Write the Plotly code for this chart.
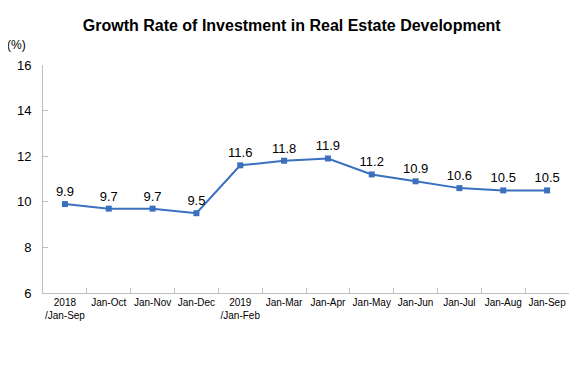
import plotly.graph_objects as go

categories = ["2018<br>/Jan-Sep", "Jan-Oct", "Jan-Nov", "Jan-Dec", "2019<br>/Jan-Feb",
              "Jan-Mar", "Jan-Apr", "Jan-May", "Jan-Jun", "Jan-Jul", "Jan-Aug", "Jan-Sep"]
values = [9.9, 9.7, 9.7, 9.5, 11.6, 11.8, 11.9, 11.2, 10.9, 10.6, 10.5, 10.5]
y_ticks = [6, 8, 10, 12, 14, 16]

line_color = "#3A70BE"
axis_color = "#BFBFBF"

fig = go.Figure()
fig.add_trace(go.Scatter(
    x=categories, y=values, mode="lines+markers+text",
    line=dict(color=line_color, width=2),
    marker=dict(symbol="square", size=6, color=line_color),
    text=[f"{v:.1f}" for v in values], textposition="top center",
    textfont=dict(family="Arial, Liberation Sans, sans-serif", size=13, color="#000000"),
    cliponaxis=False, hoverinfo="skip",
))

fig.update_layout(
    width=579, height=371,
    margin=dict(l=35, r=18, t=57, b=86, autoexpand=False),
    paper_bgcolor="white", plot_bgcolor="white",
    showlegend=False,
    title=dict(text="<b>Growth Rate of Investment in Real Estate Development</b>",
               x=0.49, xanchor="center", y=0.952, yanchor="middle",
               font=dict(family="Arial, Liberation Sans, sans-serif", size=16, color="#000000")),
    font=dict(family="Arial, Liberation Sans, sans-serif", color="#000000"),
)
fig.update_xaxes(
    type="category", showgrid=False, showline=True, linecolor=axis_color, linewidth=1,
    ticks="inside", ticklen=5, tickcolor=axis_color, tickson="boundaries",
    tickangle=0, automargin=False,
    tickfont=dict(family="Arial, Liberation Sans, sans-serif", size=10, color="#000000"),
    range=[-0.5, 11.5], zeroline=False,
)
fig.update_yaxes(
    range=[6, 16], tickvals=y_ticks, showgrid=False, showline=True, linecolor=axis_color,
    linewidth=1, ticks="inside", ticklen=5, tickcolor=axis_color, zeroline=False,
    automargin=False,
    tickfont=dict(family="Arial, Liberation Sans, sans-serif", size=13, color="#000000"),
    ticklabelstandoff=8,
)
fig.add_annotation(text="(%)", xref="paper", yref="paper", x=-0.028, y=1.0, yshift=20,
                   xanchor="right", yanchor="middle", showarrow=False,
                   font=dict(family="Arial, Liberation Sans, sans-serif", size=12, color="#000000"))

fig.write_html("out.html")
